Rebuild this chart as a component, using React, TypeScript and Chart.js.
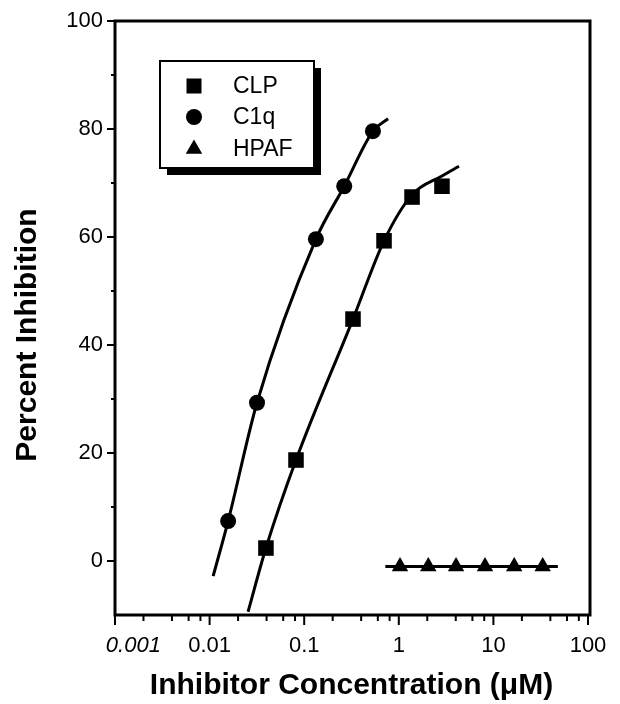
import React, { useEffect, useRef } from 'react';
import { Chart, registerables } from 'chart.js';

Chart.register(...registerables);

// ---- data ----
const clpX = [0.0394, 0.0819, 0.328, 0.698, 1.38, 2.86];
const clpY = [2.4, 18.7, 44.8, 59.3, 67.4, 69.4];
const c1qX = [0.0157, 0.0317, 0.133, 0.265, 0.533];
const c1qY = [7.4, 29.3, 59.6, 69.4, 79.6];
const hpafX = [1.03, 2.05, 4.03, 8.15, 16.6, 33.2];
const hpafY = [-1, -1, -1, -1, -1, -1];

// fitted curves
const clpFitX = [0.0255, 0.0394, 0.0819, 0.328, 0.698, 1.38, 2.86, 4.33];
const clpFitY = [-9.4, 2.4, 18.7, 44.8, 59.3, 67.8, 71.3, 73.1];
const c1qFitX = [0.0109, 0.0157, 0.0317, 0.133, 0.265, 0.533, 0.77];
const c1qFitY = [-2.8, 7.4, 29.3, 59.6, 69.4, 79.6, 81.9];
const hpafFitX = [0.72, 48];
const hpafFitY = [-1, -1];

// ---- axes ----
const xTickValues = [0.001, 0.01, 0.1, 1, 10, 100];
const xTickLabels = ['\u00a0\u00a0\u00a0\u00a0\u00a0\u00a00.001', '0.01', '0.1', '1', '10', '100'];
const xMinorMultipliers = [2, 4, 6, 8];
const yTickValues = [0, 20, 40, 60, 80, 100];
const yMinorTickValues = [10, 30, 50, 70, 90];

const seriesLabels = ['CLP', 'C1q', 'HPAF'];
const xTitle = 'Inhibitor Concentration (\u03bcM)';
const yTitle = 'Percent Inhibition';

const FONT = 'Liberation Sans, Arial, Helvetica, sans-serif';

const toPts = (xs: number[], ys: number[]) => xs.map((x, i) => ({ x, y: ys[i] }));

function drawMarker(ctx: CanvasRenderingContext2D, style: string, x: number, y: number) {
  ctx.beginPath();
  if (style === 'rect') {
    ctx.rect(x - 7.5, y - 7.5, 15, 15);
  } else if (style === 'circle') {
    ctx.arc(x, y, 8, 0, Math.PI * 2);
  } else {
    const r = 9.5;
    ctx.moveTo(x, y - r);
    ctx.lineTo(x + r * Math.sin((2 * Math.PI) / 3), y - r * Math.cos((2 * Math.PI) / 3));
    ctx.lineTo(x + r * Math.sin((4 * Math.PI) / 3), y - r * Math.cos((4 * Math.PI) / 3));
    ctx.closePath();
  }
  ctx.fill();
}

const decorPlugin = {
  id: 'decor',
  afterDatasetsDraw(chart: any) {
    const { ctx, chartArea: a, scales } = chart;
    const xs = scales.x;
    const ys = scales.y;
    ctx.save();
    ctx.strokeStyle = '#000';
    ctx.fillStyle = '#000';
    // frame
    ctx.lineWidth = 3;
    ctx.strokeRect(a.left, a.top, a.right - a.left + 2, a.bottom - a.top);
    // ticks
    ctx.lineWidth = 2;
    ctx.beginPath();
    yTickValues.forEach((v) => {
      const p = ys.getPixelForValue(v);
      ctx.moveTo(a.left - 8, p);
      ctx.lineTo(a.left, p);
    });
    yMinorTickValues.forEach((v) => {
      const p = ys.getPixelForValue(v);
      ctx.moveTo(a.left - 4, p);
      ctx.lineTo(a.left, p);
    });
    xTickValues.forEach((v, i) => {
      const p = xs.getPixelForValue(v);
      ctx.moveTo(p, a.bottom);
      ctx.lineTo(p, a.bottom + 10);
      if (i < xTickValues.length - 1) {
        xMinorMultipliers.forEach((m) => {
          const q = xs.getPixelForValue(v * m);
          ctx.moveTo(q, a.bottom);
          ctx.lineTo(q, a.bottom + 6);
        });
      }
    });
    ctx.stroke();

    // legend box with shadow
    const lx = 160, ly = 61, lw = 154, lh = 107;
    ctx.fillRect(lx + 7, ly + 7, lw, lh);
    ctx.fillStyle = '#fff';
    ctx.fillRect(lx, ly, lw, lh);
    ctx.lineWidth = 2;
    ctx.strokeRect(lx, ly, lw, lh);
    ctx.fillStyle = '#000';
    const styles = ['rect', 'circle', 'triangle'];
    const rows = [86, 117, 149];
    ctx.font = `23px ${FONT}`;
    ctx.textBaseline = 'middle';
    ctx.textAlign = 'left';
    seriesLabels.forEach((lab, i) => {
      drawMarker(ctx, styles[i], 194, rows[i]);
      ctx.fillText(lab, 233, rows[i] + 1);
    });

    // y title
    ctx.save();
    ctx.translate(28, 335);
    ctx.rotate(-Math.PI / 2);
    ctx.font = `bold 30px ${FONT}`;
    ctx.textAlign = 'center';
    ctx.textBaseline = 'middle';
    ctx.fillText(yTitle, 0, 0);
    ctx.restore();

    ctx.restore();
  },
};

export default function App() {
  const ref = useRef<HTMLCanvasElement | null>(null);

  useEffect(() => {
    if (!ref.current) return;
    const pointBase = { showLine: false, backgroundColor: '#000', borderColor: '#000', borderWidth: 0 };
    const lineBase = {
      showLine: true,
      pointRadius: 0,
      borderColor: '#000',
      borderWidth: 3,
      fill: false,
      cubicInterpolationMode: 'monotone' as const,
    };
    const chart = new Chart(ref.current, {
      type: 'line',
      data: {
        datasets: [
          { ...pointBase, label: seriesLabels[0], data: toPts(clpX, clpY), pointStyle: 'rect', pointRadius: 11 },
          { ...pointBase, label: seriesLabels[1], data: toPts(c1qX, c1qY), pointStyle: 'circle', pointRadius: 8 },
          { ...pointBase, label: seriesLabels[2], data: toPts(hpafX, hpafY), pointStyle: 'triangle', pointRadius: 9.5 },
          { ...lineBase, label: 'CLP fit', data: toPts(clpFitX, clpFitY) },
          { ...lineBase, label: 'C1q fit', data: toPts(c1qFitX, c1qFitY) },
          { ...lineBase, label: 'HPAF fit', data: toPts(hpafFitX, hpafFitY) },
        ] as any,
      },
      options: {
        animation: false,
        responsive: false,
        devicePixelRatio: 1,
        layout: { padding: { left: 0, right: 32, top: 21, bottom: 0 } },
        plugins: { legend: { display: false }, tooltip: { enabled: false } },
        scales: {
          x: {
            type: 'logarithmic',
            min: 0.001,
            max: 100,
            afterBuildTicks: (s: any) => {
              s.ticks = xTickValues.map((v) => ({ value: v }));
            },
            afterFit: (s: any) => {
              s.height = 89;
              s.paddingLeft = 0;
              s.paddingRight = 0;
            },
            grid: { display: false, drawTicks: false },
            border: { display: false },
            ticks: {
              autoSkip: false,
              maxRotation: 0,
              padding: 18,
              color: '#000',
              font: (c: any) =>
                c.index === 0
                  ? { family: FONT, size: 22, style: 'italic' }
                  : { family: FONT, size: 22 },
              callback: (_v: any, i: number) => xTickLabels[i],
            },
            title: {
              display: true,
              text: xTitle,
              color: '#000',
              font: { family: FONT, size: 30, weight: 'bold' },
              padding: { top: 0, bottom: 0 },
            },
          },
          y: {
            type: 'linear',
            min: -10,
            max: 100,
            afterBuildTicks: (s: any) => {
              s.ticks = yTickValues.map((v) => ({ value: v }));
            },
            afterFit: (s: any) => {
              s.width = 115;
              s.paddingTop = 0;
              s.paddingBottom = 0;
            },
            grid: { display: false, drawTicks: false },
            border: { display: false },
            ticks: {
              padding: 12,
              color: '#000',
              font: { family: FONT, size: 22 },
              callback: (v: any) => String(v),
            },
          },
        } as any,
      },
      plugins: [decorPlugin],
    });
    return () => chart.destroy();
  }, []);

  return (
    <div style={{ position: 'fixed', left: 0, top: 0, width: 620, height: 704, background: '#fff' }}>
      <canvas ref={ref} width={620} height={704} style={{ display: 'block' }} />
    </div>
  );
}
